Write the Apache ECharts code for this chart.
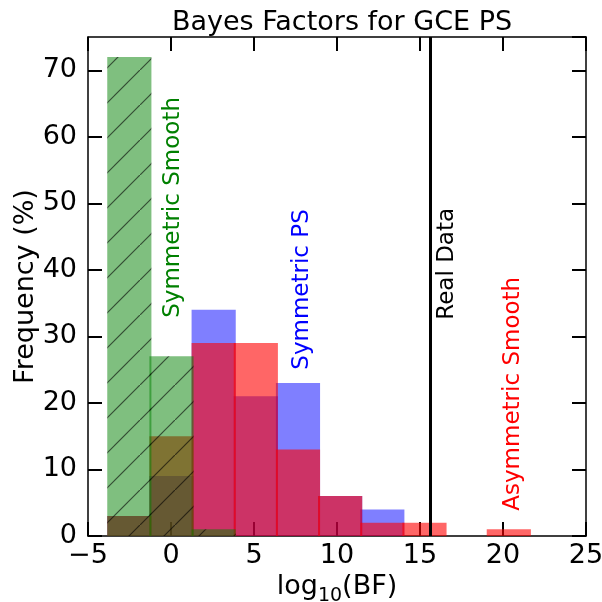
<!DOCTYPE html>
<html>
<head>
<meta charset="utf-8">
<script src="https://cdn.jsdelivr.net/npm/echarts@6/dist/echarts.min.js"></script>
<style>
  html, body { margin: 0; padding: 0; background: #fff; }
  #main { width: 602px; height: 602px; }
</style>
</head>
<body>
<div id="main"></div>
<script>
// bin edges of log10(BF)
var binEdges = [-3.78, -1.24, 1.30, 3.84, 6.38, 8.92, 11.46, 14.00, 16.54, 19.08, 21.62];
// frequency (%) per bin
var symSmooth = [72, 27, 1, 0, 0, 0, 0, 0, 0, 0];
var symPS     = [3, 9, 34, 21, 23, 6, 4, 0, 0, 0];
var asymSmooth = [3, 15, 29, 29, 13, 6, 2, 2, 0, 1];
var realData = 15.6;
var xTicks = [-5, 0, 5, 10, 15, 20, 25];
var yTicks = [0, 10, 20, 30, 40, 50, 60, 70];
// text labels: [x, y, text]
var labelSymSmooth = [0.1, 32.8, 'Symmetric Smooth'];
var labelSymPS = [7.9, 25, 'Symmetric PS'];
var labelReal = [16.6, 32.5, 'Real Data'];
var labelAsym = [20.6, 3.8, 'Asymmetric Smooth'];

var FONT = '"DejaVu Sans", sans-serif';

function binData(counts) {
  var out = [];
  for (var i = 0; i < counts.length; i++) {
    if (counts[i] > 0) out.push([binEdges[i], binEdges[i + 1], counts[i]]);
  }
  return out;
}

// hatch pattern for the green histogram
var hatch = document.createElement('canvas');
hatch.width = 35; hatch.height = 35;
var hc = hatch.getContext('2d');
hc.fillStyle = 'rgba(0,128,0,0.5)';
hc.fillRect(0, 0, 35, 35);
hc.strokeStyle = 'rgba(0,0,0,0.6)';
hc.lineWidth = 1.2;
hc.beginPath();
hc.moveTo(-5, 40); hc.lineTo(40, -5);
hc.stroke();

function barSeries(name, counts, fill, z) {
  return {
    name: name,
    type: 'custom',
    z: z,
    data: binData(counts),
    renderItem: function (params, api) {
      var p0 = api.coord([api.value(0), api.value(2)]);
      var p1 = api.coord([api.value(1), 0]);
      return {
        type: 'rect',
        shape: { x: p0[0] - 1, y: p0[1], width: p1[0] - p0[0] + 2, height: p1[1] - p0[1] },
        style: { fill: fill }
      };
    }
  };
}

function textSeries(lab, color) {
  return {
    type: 'custom',
    z: 10,
    silent: true,
    data: [lab],
    renderItem: function (params, api) {
      var p = api.coord([api.value(0), api.value(1)]);
      return {
        type: 'text',
        x: p[0], y: p[1],
        rotation: Math.PI / 2,
        style: {
          text: lab[2],
          fill: color,
          font: '23px ' + FONT,
          align: 'left',
          verticalAlign: 'middle'
        }
      };
    }
  };
}

var myChart = echarts.init(document.getElementById('main'));
var axisCommon = {
  axisLine: { show: true, onZero: false, lineStyle: { color: '#000', width: 1.5 } },
  axisTick: { show: true, inside: true, length: 14, lineStyle: { color: '#000', width: 2 } },
  splitLine: { show: false }
};

var option = {
  animation: false,
  backgroundColor: '#fff',
  title: {
    text: 'Bayes Factors for GCE PS',
    left: 337, top: 4, textAlign: 'center',
    textStyle: { fontFamily: FONT, fontSize: 27, fontWeight: 'normal', color: '#000' }
  },
  grid: { left: 88, right: 16, top: 37, bottom: 66, containLabel: false, outerBoundsMode: 'none' },
  xAxis: [
    Object.assign({
      type: 'value', min: -5, max: 25, interval: 5, position: 'bottom',
      name: 'log{s|10}(BF)', nameLocation: 'middle', nameGap: 29,
      nameTextStyle: {
        fontFamily: FONT, fontSize: 27, color: '#000',
        rich: { s: { fontFamily: FONT, fontSize: 19, color: '#000', verticalAlign: 'bottom', padding: [0, 0, -5, 0] } }
      },
      axisLabel: {
        fontFamily: FONT, fontSize: 27, color: '#000', margin: 6,
        formatter: function (v) { return xTicks.indexOf(v) >= 0 ? String(v).replace('-', '\u2212') : ''; }
      }
    }, axisCommon),
    Object.assign({
      type: 'value', min: -5, max: 25, interval: 5, position: 'top',
      axisLabel: { show: false }
    }, axisCommon)
  ],
  yAxis: [
    Object.assign({
      type: 'value', min: 0, max: 75, interval: 10, position: 'left',
      name: 'Frequency (%)', nameLocation: 'middle', nameGap: 49, nameMoveOverlap: false,
      nameTextStyle: { fontFamily: FONT, fontSize: 27, color: '#000' },
      axisLabel: {
        fontFamily: FONT, fontSize: 27, color: '#000', margin: 11, showMaxLabel: false,
        formatter: function (v) { return yTicks.indexOf(v) >= 0 ? String(v) : ''; }
      }
    }, axisCommon),
    Object.assign({
      type: 'value', min: 0, max: 75, interval: 10, position: 'right',
      axisLabel: { show: false }
    }, axisCommon)
  ],
  series: [
    barSeries('Symmetric PS', symPS, 'rgba(0,0,255,0.5)', 2),
    barSeries('Asymmetric Smooth', asymSmooth, 'rgba(255,0,0,0.6)', 3),
    barSeries('Symmetric Smooth', symSmooth, { type: 'pattern', image: hatch, repeat: 'repeat' }, 4),
    {
      type: 'line', data: [], z: 5,
      markLine: {
        silent: true, symbol: 'none', animation: false,
        label: { show: false },
        lineStyle: { color: '#000', width: 3, type: 'solid' },
        data: [{ xAxis: realData }]
      }
    },
    textSeries(labelSymSmooth, 'green'),
    textSeries(labelSymPS, 'blue'),
    textSeries(labelReal, 'black'),
    textSeries(labelAsym, 'red')
  ]
};
myChart.setOption(option);
</script>
</body>
</html>
